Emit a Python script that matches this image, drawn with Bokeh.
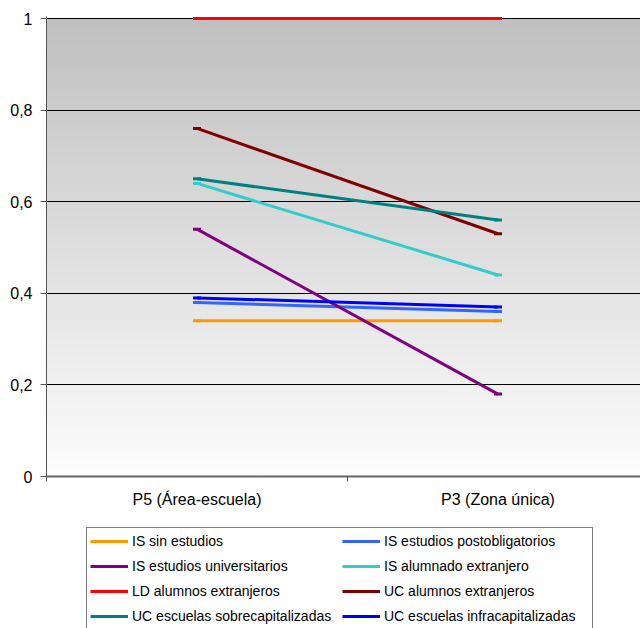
import numpy as np
from bokeh.plotting import figure
from bokeh.layouts import column
from bokeh.models import (Range1d, FixedTicker, Legend, LegendItem,
                          CustomJSTickFormatter)
from bokeh.embed import file_html
from bokeh.resources import INLINE

# ---- data ----
categories = ["P5 (Área-escuela)", "P3 (Zona única)"]

series_names = [
    "IS sin estudios",
    "IS estudios postobligatorios",
    "IS estudios universitarios",
    "IS alumnado extranjero",
    "LD alumnos extranjeros",
    "UC alumnos extranjeros",
    "UC escuelas sobrecapitalizadas",
    "UC escuelas infracapitalizadas",
]
is_sin_estudios = [0.34, 0.34]
is_postobligatorios = [0.38, 0.36]
is_universitarios = [0.54, 0.18]
is_alumnado_extranjero = [0.64, 0.44]
ld_alumnos_extranjeros = [1.0, 1.0]
uc_alumnos_extranjeros = [0.76, 0.53]
uc_sobrecapitalizadas = [0.65, 0.56]
uc_infracapitalizadas = [0.39, 0.37]

series_values = [is_sin_estudios, is_postobligatorios, is_universitarios,
                 is_alumnado_extranjero, ld_alumnos_extranjeros,
                 uc_alumnos_extranjeros, uc_sobrecapitalizadas,
                 uc_infracapitalizadas]
series_colors = ["#FF9900", "#3366FF", "#800080", "#33CCCC",
                 "#FF0000", "#800000", "#008080", "#0000FF"]

y_ticks = [0, 0.2, 0.4, 0.6, 0.8, 1.0]

FONT = "Liberation Sans"

# ---- main figure ----
FIG_H = 520
H_FRAME = 460
W_FRAME = 594
x_pos = [i + 0.5 for i in range(len(categories))]
p = figure(width=640, height=FIG_H, output_backend="svg", toolbar_location=None,
           x_range=Range1d(0, W_FRAME / 301), y_range=Range1d(0, H_FRAME / 458),
           min_border_left=46, min_border_right=0, min_border_top=16,
           min_border_bottom=FIG_H - 16 - H_FRAME)
p.outline_line_color = None
p.background_fill_color = "white"
p.border_fill_color = "white"

# gradient plot-area background (gray top -> white bottom)
grad = np.linspace(0, 1, 256).reshape(256, 1)
pal = ["#%02x%02x%02x" % (v, v, v) for v in
       np.linspace(253, 192, 256).astype(int)]
img = p.image(image=[grad], x=0, y=0, dw=2, dh=1, palette=pal)
img.level = "image"

# grid
p.xgrid.grid_line_color = None
p.ygrid.ticker = FixedTicker(ticks=y_ticks)
p.ygrid.grid_line_color = "black"
p.ygrid.grid_line_width = 1

# axes
p.yaxis.ticker = FixedTicker(ticks=y_ticks)
p.yaxis.formatter = CustomJSTickFormatter(
    code="return tick.toFixed(1).replace('.', ',').replace(/,0$/, '');")
p.yaxis.axis_line_color = "#555555"
p.yaxis.major_tick_line_color = "#555555"
p.yaxis.major_tick_out = 6
p.yaxis.major_tick_in = 0
p.yaxis.minor_tick_line_color = None
p.yaxis.major_label_standoff = 8

p.xaxis.ticker = FixedTicker(ticks=x_pos, minor_ticks=[0, 1, 2])
p.xaxis.major_label_overrides = {x: c for x, c in zip(x_pos, categories)}
p.xaxis.axis_line_color = "#666666"
p.xaxis.axis_line_width = 2
p.xaxis.major_tick_line_color = None
p.xaxis.major_tick_out = 0
p.xaxis.major_tick_in = 0
p.xaxis.minor_tick_line_color = "#555555"
p.xaxis.minor_tick_out = 5
p.xaxis.minor_tick_in = 0
p.xaxis.major_label_standoff = 9

for ax in (p.xaxis, p.yaxis):
    ax.major_label_text_font = FONT
    ax.major_label_text_font_size = "16px"
    ax.major_label_text_color = "black"

# ---- legend figure (holds the legend below the chart) ----
LEG_H = 628 - FIG_H
q = figure(width=640, height=LEG_H, output_backend="svg", toolbar_location=None,
           x_range=Range1d(10, 11), y_range=Range1d(10, 11),
           x_axis_type=None, y_axis_type=None,
           min_border_left=0, min_border_right=0, min_border_top=0,
           min_border_bottom=0)
q.outline_line_color = None
q.background_fill_color = "white"
q.border_fill_color = "white"
q.xgrid.grid_line_color = None
q.ygrid.grid_line_color = None

items = []
for name, vals, col in zip(series_names, series_values, series_colors):
    p.line(x_pos, vals, line_color=col, line_width=3)
    p.scatter(x_pos, vals, marker="dash", size=8, line_color=col, line_width=3)
    lr = q.line(x_pos, vals, line_color=col, line_width=3)
    sr = q.scatter(x_pos, vals, marker="dash", size=8, line_color=col,
                   line_width=3)
    items.append(LegendItem(label=name, renderers=[lr, sr]))

# legend is filled column by column: reorder so it reads row by row
order = [0, 2, 4, 6, 1, 3, 5, 7]
legend = Legend(items=[items[i] for i in order], ncols=2,
                location=(40, LEG_H - 9 - 101),
                label_text_font=FONT, label_text_font_size="14px",
                label_text_color="black",
                glyph_width=38, glyph_height=20, label_height=20,
                label_width=205,
                label_standoff=4, spacing=5, padding=3, margin=0,
                border_line_color="black", border_line_width=1,
                background_fill_color="white", background_fill_alpha=1)
q.add_layout(legend, "center")

layout = column(p, q, spacing=0)
open("out.html", "w").write(file_html(layout, INLINE))
